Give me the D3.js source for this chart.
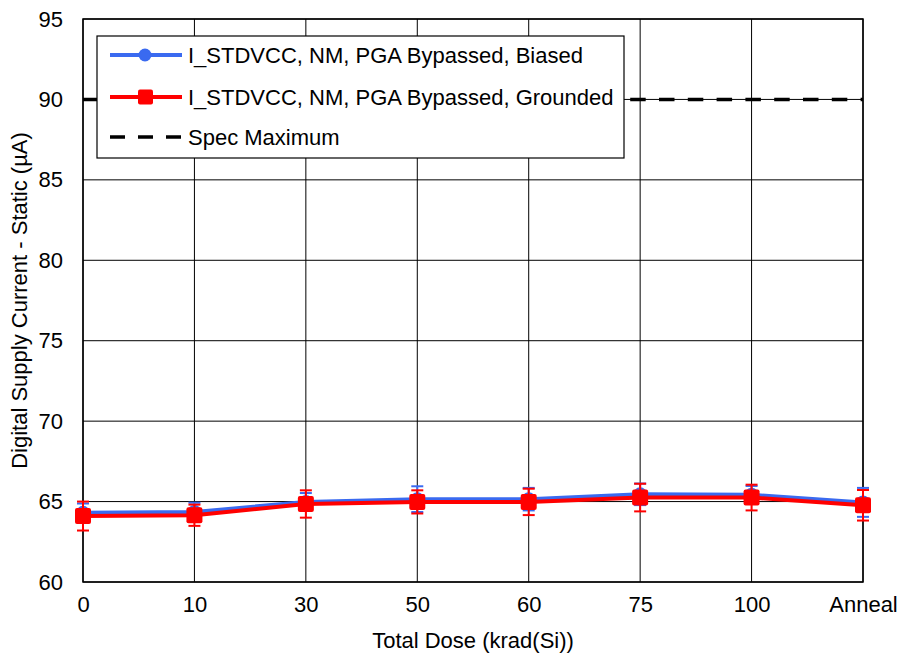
<!DOCTYPE html>
<html>
<head>
<meta charset="utf-8">
<script src="https://cdn.jsdelivr.net/npm/d3@7"></script>
<style>
  body { margin: 0; background: #fff; }
  text { font-family: "Liberation Sans", Arial, sans-serif; fill: #000; }
</style>
</head>
<body>
<div id="chart"></div>
<script>
const svgWidth = 900,
    svgHeight = 655,
    margin = { top: 19, right: 37, bottom: 73, left: 83 },
    width = svgWidth - margin.left - margin.right,
    height = svgHeight - margin.top - margin.bottom;

// data
const doses = ["0", "10", "30", "50", "60", "75", "100", "Anneal"];
const biased = [64.3, 64.35, 64.98, 65.15, 65.15, 65.45, 65.42, 64.95];
const biasedErr = [0.58, 0.58, 0.55, 0.8, 0.7, 0.67, 0.55, 0.9];
const grounded = [64.1, 64.15, 64.85, 64.98, 64.98, 65.25, 65.25, 64.77];
const groundedErr = [0.9, 0.66, 0.85, 0.72, 0.82, 0.86, 0.8, 0.95];
const specMax = 90;
const yTicks = [60, 65, 70, 75, 80, 85, 90, 95];
const legendLabels = [
    "I_STDVCC, NM, PGA Bypassed, Biased",
    "I_STDVCC, NM, PGA Bypassed, Grounded",
    "Spec Maximum"
];

const blue = "#3a6af0", red = "#ff0000";
const fontSize = "22px";

let svg = d3.select("#chart").append("svg")
    .attr("width", svgWidth)
    .attr("height", svgHeight);
let g = svg.append("g")
    .attr("transform", `translate(${margin.left},${margin.top})`);

let xScale = d3.scalePoint()
    .domain(doses)
    .range([0, width]);
let yScale = d3.scaleLinear()
    .domain([60, 95])
    .range([height, 0]);

// gridlines
g.append("g")
    .selectAll("line")
    .data(yTicks)
    .join("line")
    .attr("x1", 0).attr("x2", width)
    .attr("y1", (d) => yScale(d)).attr("y2", (d) => yScale(d))
    .attr("stroke", "#000").attr("stroke-width", 1);
g.append("g")
    .selectAll("line")
    .data(doses)
    .join("line")
    .attr("x1", (d) => xScale(d)).attr("x2", (d) => xScale(d))
    .attr("y1", 0).attr("y2", height)
    .attr("stroke", "#000").attr("stroke-width", 1);

// frame
g.append("rect")
    .attr("width", width).attr("height", height)
    .attr("fill", "none").attr("stroke", "#000").attr("stroke-width", 1.5);

// axes
let yAxis = g.append("g")
    .call(d3.axisLeft(yScale).tickValues(yTicks).tickSize(0).tickPadding(20));
yAxis.select(".domain").remove();
yAxis.selectAll("text").style("font-size", fontSize);

let xAxis = g.append("g")
    .attr("transform", `translate(0,${height})`)
    .call(d3.axisBottom(xScale).tickSize(0).tickPadding(14));
xAxis.select(".domain").remove();
xAxis.selectAll("text").style("font-size", fontSize);

// axis labels
svg.append("text")
    .attr("x", margin.left + width / 2)
    .attr("y", 648)
    .attr("text-anchor", "middle")
    .style("font-size", fontSize)
    .text("Total Dose (krad(Si))");
svg.append("text")
    .attr("transform", `translate(27, ${margin.top + height / 2}) rotate(-90)`)
    .attr("text-anchor", "middle")
    .style("font-size", fontSize)
    .text("Digital Supply Current - Static (µA)");

// spec line
g.append("line")
    .attr("x1", 0).attr("x2", width)
    .attr("y1", yScale(specMax)).attr("y2", yScale(specMax))
    .attr("stroke", "#000").attr("stroke-width", 3.5)
    .attr("stroke-dasharray", "15.5,13.3");

// series
function drawSeries(values, errs, color, shape) {
    let pts = doses.map((d, i) => ({ dose: d, v: values[i], e: errs[i] }));
    let sg = g.append("g");
    let line = d3.line()
        .x((d) => xScale(d.dose))
        .y((d) => yScale(d.v));
    sg.append("path")
        .datum(pts)
        .attr("d", line)
        .attr("fill", "none")
        .attr("stroke", color)
        .attr("stroke-width", 4);
    // error bars
    let eb = sg.selectAll("g.err")
        .data(pts)
        .join("g");
    eb.append("line")
        .attr("x1", (d) => xScale(d.dose)).attr("x2", (d) => xScale(d.dose))
        .attr("y1", (d) => yScale(d.v - d.e)).attr("y2", (d) => yScale(d.v + d.e))
        .attr("stroke", color).attr("stroke-width", 2);
    [-1, 1].forEach((s) => {
        eb.append("line")
            .attr("x1", (d) => xScale(d.dose) - 6).attr("x2", (d) => xScale(d.dose) + 6)
            .attr("y1", (d) => yScale(d.v + s * d.e)).attr("y2", (d) => yScale(d.v + s * d.e))
            .attr("stroke", color).attr("stroke-width", 2);
    });
    // markers
    if (shape === "circle") {
        sg.selectAll("circle")
            .data(pts)
            .join("circle")
            .attr("cx", (d) => xScale(d.dose))
            .attr("cy", (d) => yScale(d.v))
            .attr("r", 7)
            .attr("fill", color);
    } else {
        sg.selectAll("rect")
            .data(pts)
            .join("rect")
            .attr("x", (d) => xScale(d.dose) - 8)
            .attr("y", (d) => yScale(d.v) - 8)
            .attr("width", 16).attr("height", 16)
            .attr("rx", 2)
            .attr("fill", color);
    }
}
drawSeries(biased, biasedErr, blue, "circle");
drawSeries(grounded, groundedErr, red, "square");

// legend
let legend = svg.append("g").attr("transform", "translate(97,36)");
legend.append("rect")
    .attr("width", 527).attr("height", 122)
    .attr("fill", "#fff").attr("stroke", "#000").attr("stroke-width", 1.2);
let rowsY = [19, 61, 101];
legendLabels.forEach((lab, i) => {
    let row = legend.append("g").attr("transform", `translate(0,${rowsY[i]})`);
    if (i < 2) {
        let c = i === 0 ? blue : red;
        row.append("line")
            .attr("x1", 13).attr("x2", 85).attr("y1", 0).attr("y2", 0)
            .attr("stroke", c).attr("stroke-width", 4);
        if (i === 0) {
            row.append("circle").attr("cx", 48).attr("cy", 0).attr("r", 6.5).attr("fill", c);
        } else {
            row.append("rect").attr("x", 41).attr("y", -7.5).attr("width", 15).attr("height", 15)
                .attr("rx", 2).attr("fill", c);
        }
    } else {
        row.append("line")
            .attr("x1", 13).attr("x2", 85).attr("y1", 0).attr("y2", 0)
            .attr("stroke", "#000").attr("stroke-width", 3.5)
            .attr("stroke-dasharray", "15,13");
    }
    row.append("text")
        .attr("x", 91).attr("y", 0)
        .attr("dy", "0.35em")
        .style("font-size", fontSize)
        .text(lab);
});
</script>
</body>
</html>
